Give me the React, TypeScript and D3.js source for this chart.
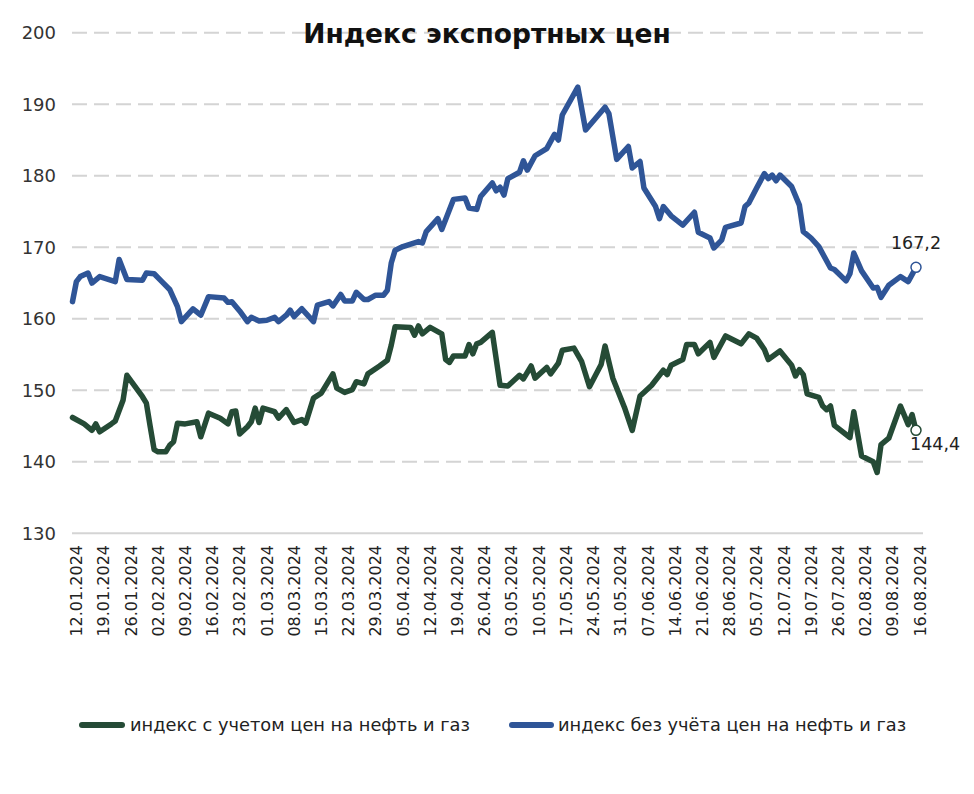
import React from "react";
import * as d3 from "d3";

// Day offsets counted from 12.01.2024
const withoutOilDays = [0,1,2,4,5,7,11,12,14,18,19,21,23,25,27,28,31,33,35,39,40,41,43,45,46,48,50,52,53,55,56,57,59,62,63,66,67,69,70,72,73,75,76,78,80,81,82,83,85,89,90,91,94,95,98,101,102,104,105,108,109,110,111,112,115,116,117,119,122,124,125,126,130,132,137,138,140,143,144,146,147,150,151,152,154,157,160,161,164,165,167,168,172,173,174,176,178,179,180,181,182,185,187,188,190,192,195,196,199,200,201,203,206,207,208,210,213,215,217];
const withoutOilValues = [162.4,165.2,165.9,166.4,165.0,165.9,165.2,168.3,165.5,165.4,166.4,166.3,165.2,164.1,161.7,159.6,161.4,160.5,163.1,162.9,162.3,162.4,161.1,159.6,160.2,159.7,159.8,160.2,159.6,160.5,161.2,160.3,161.4,159.6,161.9,162.4,161.8,163.4,162.5,162.5,163.7,162.7,162.7,163.3,163.3,164.0,167.8,169.6,170.1,170.8,170.6,172.2,174.0,172.5,176.7,176.9,175.5,175.3,177.1,179.0,177.9,178.4,177.3,179.6,180.5,182.1,180.8,182.8,183.8,185.8,185.0,188.5,192.4,186.4,189.6,188.7,182.3,184.1,181.1,182.0,178.3,175.7,174.0,175.7,174.4,173.1,174.9,172.1,171.3,169.9,171.0,172.8,173.4,175.7,176.2,178.3,180.3,179.6,180.1,179.3,180.1,178.5,175.9,172.2,171.3,170.1,167.1,166.9,165.3,166.3,169.2,166.7,164.3,164.4,163.0,164.7,165.9,165.2,167.2];

const withOilDays = [0,3,5,6,7,10,11,13,14,18,19,20,21,22,24,25,26,27,29,32,33,35,38,40,41,42,43,45,46,47,48,49,52,53,55,57,59,60,62,64,67,68,70,72,73,75,76,79,81,82,83,87,88,89,90,92,95,96,97,98,101,102,103,104,105,108,110,112,115,116,118,119,122,123,125,126,129,131,133,136,137,139,142,144,146,147,149,152,153,154,157,158,160,161,164,165,168,172,174,176,178,179,182,185,186,187,188,189,192,193,194,195,196,200,201,203,206,207,208,210,213,215,216,217];
const withOilValues = [146.2,145.3,144.4,145.3,144.2,145.3,145.7,148.6,152.1,149.1,148.2,144.9,141.7,141.4,141.4,142.3,142.8,145.4,145.3,145.6,143.5,146.8,146.1,145.3,147.0,147.1,143.9,144.9,145.6,147.5,145.5,147.5,147.0,146.1,147.3,145.5,145.9,145.4,148.9,149.6,152.3,150.3,149.7,150.1,151.2,150.9,152.3,153.4,154.2,156.3,158.9,158.8,157.7,159.0,157.9,158.8,157.9,154.3,153.9,154.8,154.8,156.4,155.1,156.5,156.7,158.1,150.7,150.6,152.1,151.6,153.4,151.7,153.2,152.3,153.8,155.6,155.9,154.0,150.5,153.6,156.2,151.7,147.6,144.4,149.2,149.7,150.7,152.8,152.2,153.5,154.3,156.4,156.4,155.1,156.7,154.6,157.6,156.5,157.9,157.3,155.7,154.3,155.5,153.5,152.0,152.9,152.2,149.5,149.0,147.8,147.3,147.8,145.1,143.4,147.0,140.8,140.0,138.5,142.4,143.3,147.8,145.2,146.6,144.4];

const tickLabels = ["12.01.2024","19.01.2024","26.01.2024","02.02.2024","09.02.2024","16.02.2024","23.02.2024","01.03.2024","08.03.2024","15.03.2024","22.03.2024","29.03.2024","05.04.2024","12.04.2024","19.04.2024","26.04.2024","03.05.2024","10.05.2024","17.05.2024","24.05.2024","31.05.2024","07.06.2024","14.06.2024","21.06.2024","28.06.2024","05.07.2024","12.07.2024","19.07.2024","26.07.2024","02.08.2024","09.08.2024","16.08.2024"];
const yTicks = [130,140,150,160,170,180,190,200];

const title = "Индекс экспортных цен";
const seriesNames = ["индекс с учетом цен на нефть и газ", "индекс без учёта цен на нефть и газ"];
const lastLabels = ["144,4", "167,2"];

const GREEN = "#254b36";
const BLUE = "#2f5597";
const FONT = "'DejaVu Sans', sans-serif";

export default function App() {
  const W = 974, H = 794;
  const x = d3.scaleLinear().domain([0, 217]).range([72.5, 916]);
  const y = d3.scaleLinear().domain([130, 200]).range([533.3, 32.8]);
  const line = d3.line<[number, number]>().x(d => x(d[0])).y(d => y(d[1]));
  const green: [number, number][] = withOilDays.map((d, i) => [d, withOilValues[i]]);
  const blue: [number, number][] = withoutOilDays.map((d, i) => [d, withoutOilValues[i]]);
  const gLast = green[green.length - 1];
  const bLast = blue[blue.length - 1];

  return (
    <svg width={W} height={H} style={{ position: "absolute", left: 0, top: 0, background: "#fff" }} fontFamily={FONT}>
      <rect width={W} height={H} fill="#fff" />
      {yTicks.map(t => (
        <g key={t}>
          <line x1={72} x2={923} y1={y(t)} y2={y(t)} stroke="#d4d4d4" strokeWidth={2}
            strokeDasharray={t === 130 ? undefined : "15,7"} />
          <text x={56} y={y(t)} dy="0.35em" textAnchor="end" fontSize={18} fill="#333">{t}</text>
        </g>
      ))}
      {tickLabels.map((lab, i) => (
        <text key={lab} transform={`translate(${x(i * 7) + 4},545) rotate(-90)`} textAnchor="end" dy="0.35em"
          fontSize={16} fill="#222">{lab}</text>
      ))}
      <text x={487} y={43} textAnchor="middle" fontSize={26.5} fontWeight="bold" fill="#111">{title}</text>
      <path d={line(green) || ""} fill="none" stroke={GREEN} strokeWidth={5.5} strokeLinejoin="round" strokeLinecap="round" />
      <path d={line(blue) || ""} fill="none" stroke={BLUE} strokeWidth={5.5} strokeLinejoin="round" strokeLinecap="round" />
      <circle cx={x(gLast[0])} cy={y(gLast[1])} r={5} fill="#fff" stroke={GREEN} strokeWidth={1.5} />
      <circle cx={x(bLast[0])} cy={y(bLast[1])} r={5} fill="#fff" stroke={BLUE} strokeWidth={1.5} />
      <text x={x(bLast[0])} y={y(bLast[1]) - 18} textAnchor="middle" fontSize={17.5} fill="#222">{lastLabels[1]}</text>
      <text x={x(gLast[0]) - 6} y={y(gLast[1]) + 20} textAnchor="start" fontSize={17.5} fill="#222">{lastLabels[0]}</text>
      <g>
        <line x1={82} x2={122} y1={725} y2={725} stroke={GREEN} strokeWidth={6} strokeLinecap="round" />
        <text x={130} y={725} dy="0.35em" fontSize={17.8} fill="#222">{seriesNames[0]}</text>
        <line x1={512} x2={551} y1={725} y2={725} stroke={BLUE} strokeWidth={6} strokeLinecap="round" />
        <text x={558} y={725} dy="0.35em" fontSize={17.8} fill="#222">{seriesNames[1]}</text>
      </g>
    </svg>
  );
}
